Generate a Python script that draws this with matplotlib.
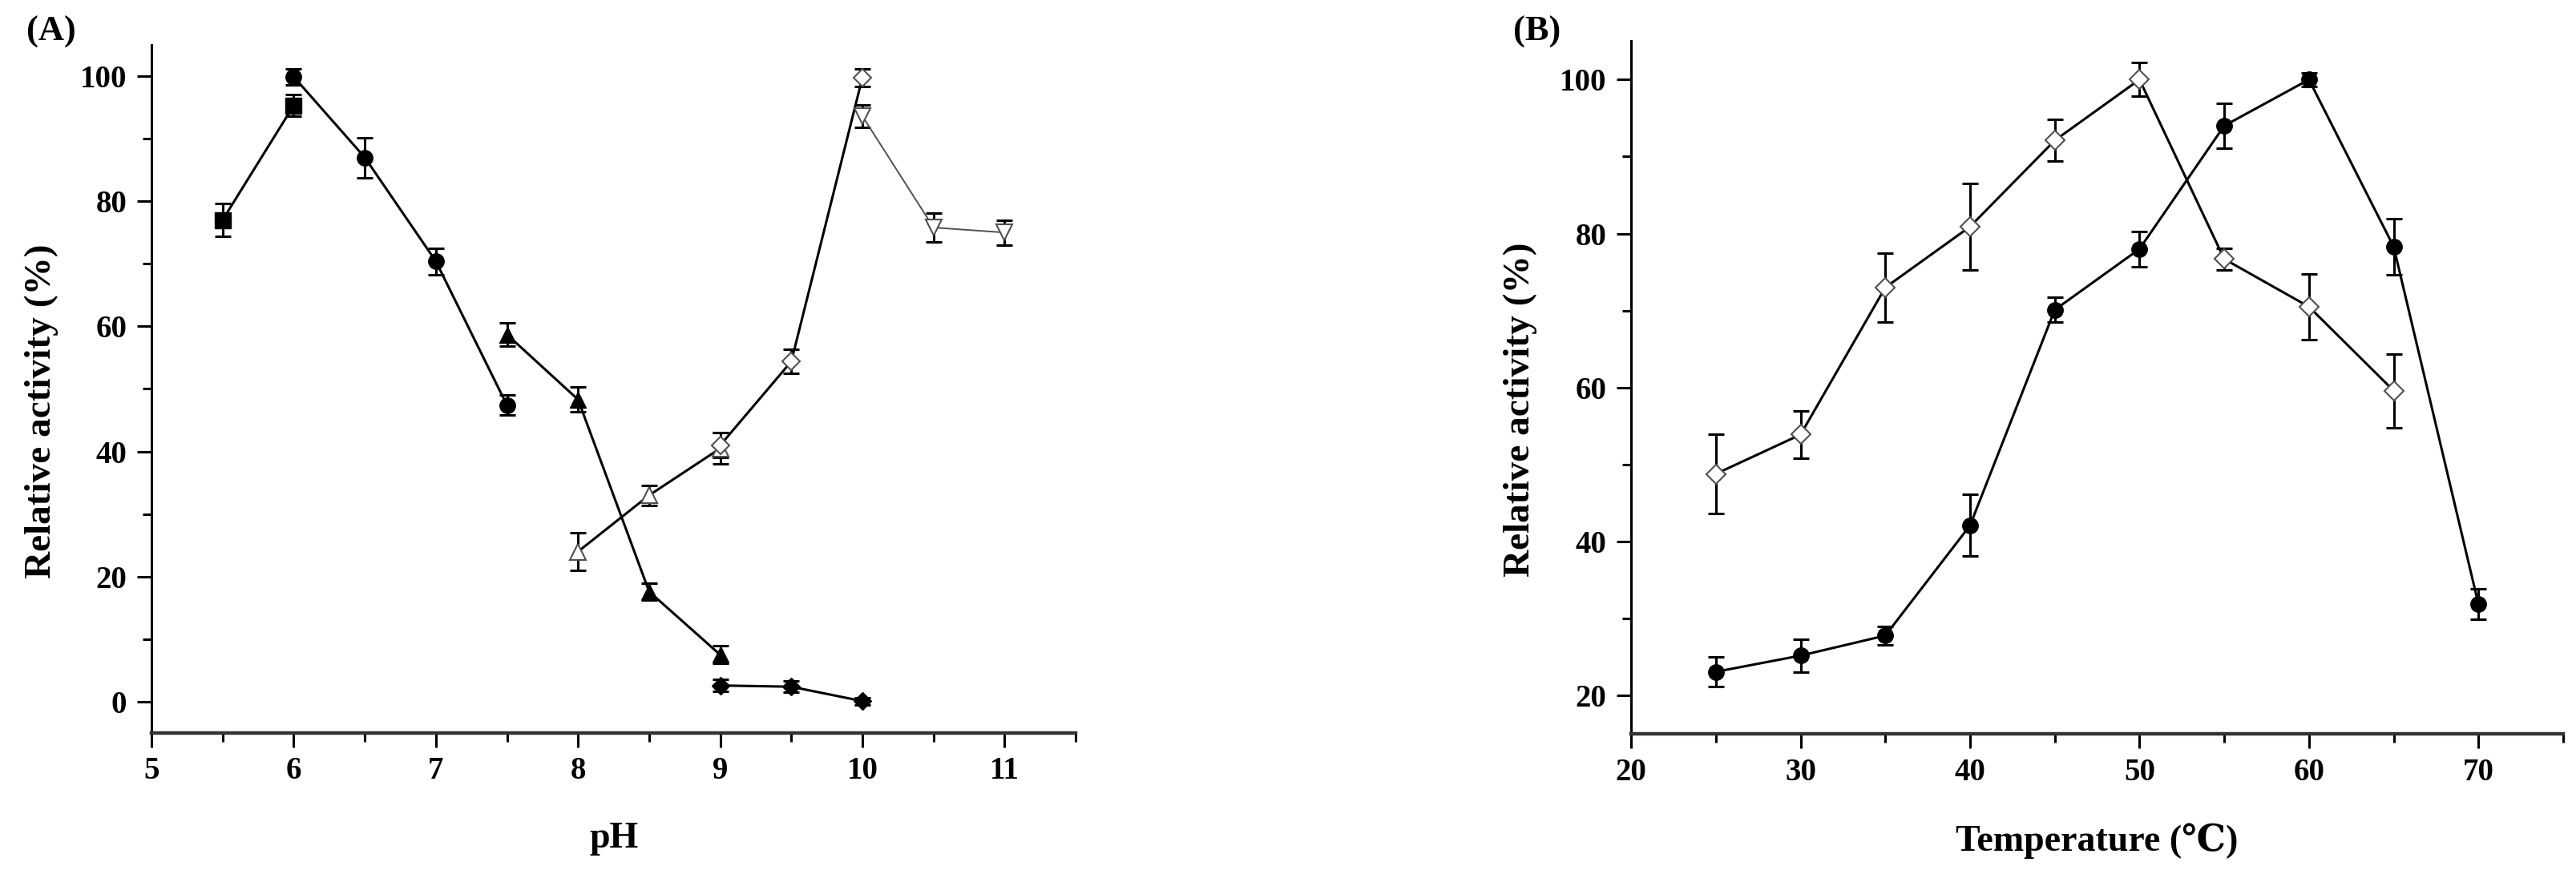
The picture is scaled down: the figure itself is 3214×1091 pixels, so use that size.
import numpy as np
import matplotlib
matplotlib.use('Agg')
import matplotlib.pyplot as plt
from matplotlib.ticker import MultipleLocator

plt.rcParams['font.family'] = ['Liberation Serif', 'DejaVu Serif']
plt.rcParams['font.weight'] = 'bold'

# (A) pH profile, one list per buffer
ph_sq = [5.5, 6.0]
act_sq = [77.0, 95.3]
err_sq = [2.6, 1.7]

ph_circ = [6.0, 6.5, 7.0, 7.5]
act_circ = [99.9, 87.0, 70.4, 47.4]
err_circ = [1.3, 3.2, 2.1, 1.6]

ph_tri = [7.5, 8.0, 8.5, 9.0]
act_tri = [58.7, 48.3, 17.6, 7.5]
err_tri = [1.8, 2.0, 1.4, 1.4]

ph_dia = [9.0, 9.5, 10.0]
act_dia = [2.6, 2.4, 0.1]
err_dia = [1.0, 0.9, 0.6]

ph_otri = [8.0, 8.5, 9.0]
act_otri = [24.0, 33.0, 40.5]
err_otri = [3.0, 1.6, 2.5]

ph_odia = [9.0, 9.5, 10.0]
act_odia = [41.0, 54.4, 99.8]
err_odia = [2.0, 1.9, 1.4]

ph_dtri = [10.0, 10.5, 11.0]
act_dtri = [93.6, 75.8, 75.0]
err_dtri = [1.8, 2.3, 2.0]

# (B) temperature profile
temp_a = [25, 30, 35, 40, 45, 50, 55, 60, 65, 70]
act_a = [23.1, 25.2, 27.8, 42.1, 70.1, 78.0, 94.0, 100.0, 78.3, 31.9]
err_a = [1.9, 2.1, 1.2, 4.0, 1.6, 2.3, 2.9, 0.9, 3.6, 2.0]

temp_b = [25, 30, 35, 40, 45, 50, 55, 60, 65]
act_b = [48.8, 53.9, 73.0, 80.9, 92.1, 100.0, 76.7, 70.5, 59.6]
err_b = [5.1, 3.1, 4.5, 5.6, 2.7, 2.2, 1.4, 4.3, 4.8]

GRAY = '#505050'


def series(ax, x, y, e, marker, filled=True, ms=14, lw=2.2, color='black'):
    ax.errorbar(x, y, yerr=e, fmt='none', ecolor='black', elinewidth=2.2,
                capsize=7, capthick=2.2, zorder=2)
    if filled:
        ax.plot(x, y, color=color, lw=lw, marker=marker, ms=ms,
                mfc='black', mec='black', zorder=3)
    else:
        ax.plot(x, y, color=color, lw=lw, marker=marker, ms=ms,
                mfc='white', mec=GRAY, mew=1.5, zorder=3)


def style(ax, xlim, ylim, xmaj, ymaj, yticks):
    ax.set_xlim(*xlim)
    ax.set_ylim(*ylim)
    ax.spines['top'].set_visible(False)
    ax.spines['right'].set_visible(False)
    ax.spines['left'].set_linewidth(2.2)
    ax.spines['bottom'].set_linewidth(3.2)
    ax.spines['bottom'].set_color('#333333')
    ax.xaxis.set_major_locator(MultipleLocator(xmaj))
    ax.xaxis.set_minor_locator(MultipleLocator(xmaj / 2))
    ax.set_yticks(yticks)
    ax.yaxis.set_minor_locator(MultipleLocator(ymaj / 2))
    ax.tick_params(which='major', direction='out', length=13, width=2.2,
                   labelsize=28, pad=8)
    ax.tick_params(which='minor', direction='out', length=8, width=2.2)
    ax.tick_params(axis='y', which='major', pad=9)


fig = plt.figure(figsize=(32.14, 10.91), dpi=100)
ax1 = fig.add_axes([0.0588, 0.1613, 0.3588, 0.7874])
ax2 = fig.add_axes([0.6332, 0.160, 0.3618, 0.793])

series(ax1, ph_sq, act_sq, err_sq, 's')
series(ax1, ph_circ, act_circ, err_circ, 'o')
series(ax1, ph_tri, act_tri, err_tri, '^')
series(ax1, ph_dia, act_dia, err_dia, 'D', ms=11)
series(ax1, ph_otri, act_otri, err_otri, '^', filled=False)
series(ax1, ph_odia, act_odia, err_odia, 'D', filled=False, ms=11)
series(ax1, ph_dtri, act_dtri, err_dtri, 'v', filled=False, lw=1.4, color=GRAY)

series(ax2, temp_a, act_a, err_a, 'o')
series(ax2, temp_b, act_b, err_b, 'D', filled=False, ms=12)

style(ax1, (5, 11.5), (-5, 105), 1, 20, [0, 20, 40, 60, 80, 100])
style(ax2, (20, 75), (15, 105), 10, 20, [20, 40, 60, 80, 100])

ax1.set_xlabel('pH', fontsize=33, fontweight='bold')
ax2.set_xlabel('Temperature (\u2103)', fontsize=33, fontweight='bold')
for ax in (ax1, ax2):
    ax.set_ylabel('Relative activity (%)', fontsize=34, fontweight='bold')
    ax.yaxis.set_label_coords(-0.119, 0.468)
    ax.xaxis.set_label_coords(0.5, -0.154)
    ax.xaxis.label.set_va('center')
    ax.yaxis.label.set_va('center')

fig.text(33 / 3214, 1 - 40 / 1091, '(A)', fontsize=32, fontweight='bold',
         ha='left', va='center')
fig.text(1888 / 3214, 1 - 40 / 1091, '(B)', fontsize=32, fontweight='bold',
         ha='left', va='center')

fig.savefig('out.png', dpi=100)
